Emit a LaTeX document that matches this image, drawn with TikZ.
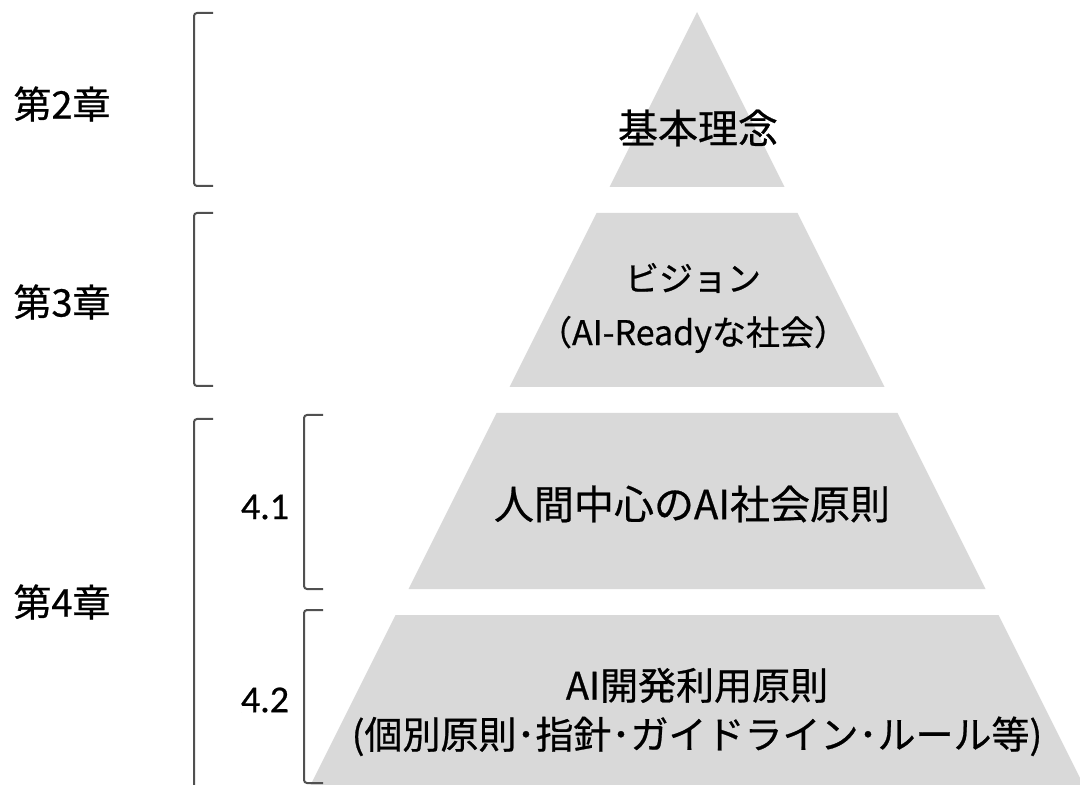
\documentclass[tikz,border=0pt]{standalone}
\usepackage{fontspec}
\setmainfont[FakeBold=0.6]{Noto Sans CJK JP}
\newfontfamily\numfont[FakeBold=0.6]{Carlito}
\definecolor{tiergray}{HTML}{D9D9D9}
\definecolor{bracketgray}{HTML}{505050}
\begin{document}
\begin{tikzpicture}[x=0.5pt,y=-0.5pt,
  tier/.style={fill=tiergray},
  brace/.style={draw=bracketgray, line width=1pt, rounded corners=1.5pt},
  chap/.style={font=\fontsize{19pt}{21pt}\selectfont},
  sect/.style={font=\numfont\fontsize{19pt}{21pt}\selectfont},
  tiertext/.style={align=center, font=\fontsize{20pt}{25pt}\selectfont}]
\useasboundingbox (0,0) rectangle (1080,785);
\clip (0,0) rectangle (1080,785);
% pyramid tiers
\foreach \t/\b in {12/187,213/387,413/589,615/795}
  \fill [tier] ({697-0.5*(\t-12)},\t) -- ({697+0.5*(\t-12)},\t)
    -- ({697+0.5*(\b-12)},\b) -- ({697-0.5*(\b-12)},\b) -- cycle;
% chapter brackets
\draw [brace] (213,13) -- (194,13) -- (194,186) -- (213,186);
\draw [brace] (213,213) -- (194,213) -- (194,386) -- (213,386);
\draw [brace] (213,419) -- (194,419) -- (194,800);
\draw [brace] (323,415) -- (304,415) -- (304,589) -- (323,589);
\draw [brace] (323,610) -- (304,610) -- (304,783) -- (323,783);
% labels
\node [chap] (ch2) at (62,104) {第2章};
\node [chap] (ch3) at (62,302) {第3章};
\node [chap] (ch4) at (62,602) {第4章};
\node [sect] (s41) at (265,507) {4.1};
\node [sect] (s42) at (265,700) {4.2};
\node [tiertext] (rinen) at (698,128) {基本理念};
\node [tiertext, font=\fontsize{17pt}{27pt}\selectfont] (vision) at (693,308) {ビジョン\\（AI-Readyな社会）};
\node [tiertext] (gensoku) at (692,504) {人間中心のAI社会原則};
\node [tiertext, font=\fontsize{19pt}{24.5pt}\selectfont] (kaihatsu) at (697,712) {AI開発利用原則\\(個別原則･指針･ガイドライン･ルール等)};
\end{tikzpicture}
\end{document}
